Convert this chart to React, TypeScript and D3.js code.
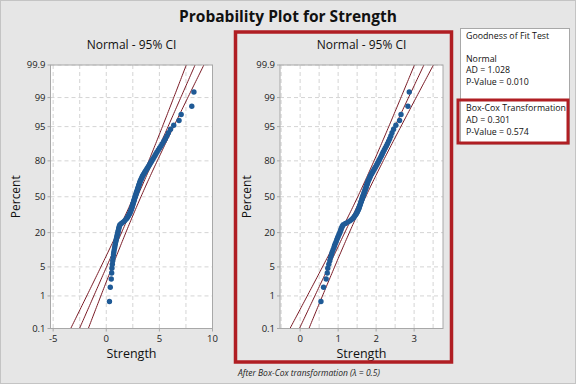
import React from "react";
import * as d3 from "d3";

// ---------- data ----------
const strength: number[] = [
  0.30, 0.38, 0.47, 0.51, 0.53, 0.57, 0.61, 0.64, 0.68, 0.71,
  0.75, 0.79, 0.82, 0.86, 0.90, 0.93, 0.97, 1.00, 1.04, 1.08,
  1.11, 1.14, 1.17, 1.20, 1.24, 1.29, 1.42, 1.58, 1.72, 1.83,
  1.92, 2.00, 2.07, 2.13, 2.19, 2.24, 2.28, 2.32, 2.36, 2.40,
  2.43, 2.46, 2.49, 2.52, 2.55, 2.58, 2.61, 2.64, 2.67, 2.70,
  2.73, 2.76, 2.80, 2.83, 2.86, 2.90, 2.93, 2.96, 3.00, 3.03,
  3.06, 3.10, 3.13, 3.17, 3.20, 3.26, 3.31, 3.36, 3.41, 3.46,
  3.53, 3.60, 3.67, 3.75, 3.83, 3.91, 3.99, 4.07, 4.15, 4.24,
  4.32, 4.41, 4.50, 4.59, 4.68, 4.78, 4.90, 5.02, 5.15, 5.28,
  5.42, 5.56, 5.70, 5.85, 6.05, 6.35, 6.85, 7.05, 8.05, 8.25,
];
const boxCoxLambda = 0.5;
// Box-Cox (Minitab: Y^lambda) transformed values
const transformed: number[] = strength.map((v) => Math.pow(v, boxCoxLambda));

const percentTicks: number[] = [0.1, 1, 5, 20, 50, 80, 95, 99, 99.9];
const leftXTicks: number[] = [-5, 0, 5, 10];
const rightXTicks: number[] = [0, 1, 2, 3];

// fitted normal parameters
const normalFit = { mean: 2.92, sd: 1.76 };
const boxCoxFit = { mean: 1.62, sd: 0.53 };

const gofLines: string[] = ["Goodness of Fit Test", "", "Normal", "AD = 1.028", "P-Value = 0.010"];
const gofBoxCox: string[] = ["Box-Cox Transformation", "AD = 0.301", "P-Value = 0.574"];

// ---------- helpers ----------
function probit(p: number): number {
  // Acklam's inverse normal approximation
  const a = [-3.969683028665376e1, 2.209460984245205e2, -2.759285104469687e2, 1.38357751867269e2, -3.066479806614716e1, 2.506628277459239];
  const b = [-5.447609879822406e1, 1.615858368580409e2, -1.556989798598866e2, 6.680131188771972e1, -1.328068155288572e1];
  const c = [-7.784894002430293e-3, -3.223964580411365e-1, -2.400758277161838, -2.549732539343734, 4.374664141464968, 2.938163982698783];
  const d = [7.784695709041462e-3, 3.224671290700398e-1, 2.445134137142996, 3.754408661907416];
  const pl = 0.02425;
  let q: number, r: number;
  if (p < pl) {
    q = Math.sqrt(-2 * Math.log(p));
    return (((((c[0] * q + c[1]) * q + c[2]) * q + c[3]) * q + c[4]) * q + c[5]) / ((((d[0] * q + d[1]) * q + d[2]) * q + d[3]) * q + 1);
  } else if (p <= 1 - pl) {
    q = p - 0.5;
    r = q * q;
    return ((((((a[0] * r + a[1]) * r + a[2]) * r + a[3]) * r + a[4]) * r + a[5]) * q) / (((((b[0] * r + b[1]) * r + b[2]) * r + b[3]) * r + b[4]) * r + 1);
  } else {
    q = Math.sqrt(-2 * Math.log(1 - p));
    return -(((((c[0] * q + c[1]) * q + c[2]) * q + c[3]) * q + c[4]) * q + c[5]) / ((((d[0] * q + d[1]) * q + d[2]) * q + d[3]) * q + 1);
  }
}

const W = 576, H = 384;
const plotTop = 65, plotBottom = 328.5;
const zMax = probit(0.999);
const yScale = d3.scaleLinear().domain([-zMax, zMax]).range([plotBottom, plotTop]);

const FONT = "'Open Sans', 'Noto Sans', sans-serif";
const LINE = "#7a1b26";
const DOT = "#1f5a96";
const RED = "#b01e23";

type PanelProps = {
  id: string;
  x0: number; x1: number;
  domain: [number, number];
  ticks: number[];
  gridStep: number;
  values: number[];
  fit: { mean: number; sd: number };
  percentX: number;
};

function Panel({ id, x0, x1, domain, ticks, gridStep, values, fit, percentX }: PanelProps) {
  const x = d3.scaleLinear().domain(domain).range([x0, x1]);
  const sorted = [...values].sort((a, b) => a - b);
  const n = sorted.length;
  const pts = sorted.map((v, i) => ({ v, z: probit((i + 1 - 0.3) / (n + 0.4)) }));
  const grid = d3.range(Math.ceil(domain[0] / gridStep) * gridStep, domain[1] + 1e-9, gridStep);
  const zs = d3.range(-3.6, 3.61, 0.05);
  const line = d3.line<[number, number]>().x((d) => x(d[0])).y((d) => yScale(d[1]));
  const curve = (k: number) =>
    line(zs.map((z) => [fit.mean + z * fit.sd + k * 1.96 * fit.sd * Math.sqrt((1 + (z * z) / 2) / n), z] as [number, number]));
  const cx = (x0 + x1) / 2;
  return (
    <g>
      <defs>
        <clipPath id={id}>
          <rect x={x0} y={plotTop} width={x1 - x0} height={plotBottom - plotTop} />
        </clipPath>
      </defs>
      <rect x={x0} y={plotTop} width={x1 - x0} height={plotBottom - plotTop} fill="#ffffff" />
      {grid.map((g) => (
        <line key={"gx" + g} x1={x(g)} x2={x(g)} y1={plotTop} y2={plotBottom} stroke="#d4d4d4" strokeDasharray="4,3" strokeWidth={1} />
      ))}
      {percentTicks.map((p) => (
        <line key={"gy" + p} x1={x0} x2={x1} y1={yScale(probit(p / 100))} y2={yScale(probit(p / 100))} stroke="#d4d4d4" strokeDasharray="4,3" strokeWidth={1} />
      ))}
      <g clipPath={`url(#${id})`}>
        <path d={curve(-1) || ""} fill="none" stroke={LINE} strokeWidth={1} />
        <path d={curve(0) || ""} fill="none" stroke={LINE} strokeWidth={1} />
        <path d={curve(1) || ""} fill="none" stroke={LINE} strokeWidth={1} />
        {pts.map((p, i) => (
          <circle key={i} cx={x(p.v)} cy={yScale(p.z)} r={2.7} fill={DOT} />
        ))}
      </g>
      <rect x={x0} y={plotTop} width={x1 - x0} height={plotBottom - plotTop} fill="none" stroke="#a8a8a8" strokeWidth={1} />
      {percentTicks.map((p) => (
        <g key={"ty" + p}>
          <line x1={x0 - 3} x2={x0} y1={yScale(probit(p / 100))} y2={yScale(probit(p / 100))} stroke="#a8a8a8" />
          <text x={x0 - 5} y={yScale(probit(p / 100))} dy="0.35em" textAnchor="end" fontSize={9.5} fill="#222" fontFamily={FONT}>
            {String(p)}
          </text>
        </g>
      ))}
      {ticks.map((t) => (
        <g key={"tx" + t}>
          <line x1={x(t)} x2={x(t)} y1={plotBottom} y2={plotBottom + 3} stroke="#a8a8a8" />
          <text x={x(t)} y={plotBottom + 13} textAnchor="middle" fontSize={9.5} fill="#222" fontFamily={FONT}>
            {String(t)}
          </text>
        </g>
      ))}
      <text x={cx} y={49} textAnchor="middle" fontSize={12} fill="#111" fontFamily={FONT}>
        Normal - 95% CI
      </text>
      <text x={cx} y={358} textAnchor="middle" fontSize={12.5} fill="#111" fontFamily={FONT}>
        Strength
      </text>
      <text transform={`translate(${percentX},${(plotTop + plotBottom) / 2}) rotate(-90)`} textAnchor="middle" dy="0.35em" fontSize={12} fill="#111" fontFamily={FONT}>
        Percent
      </text>
    </g>
  );
}

export default function App() {
  return (
    <svg width={W} height={H} style={{ position: "absolute", left: 0, top: 0, display: "block" }} fontFamily={FONT}>
      <rect x={0.5} y={0.5} width={W - 1} height={H - 1} fill="#e6e6e6" stroke="#c4c4c4" />
      <text x={288} y={22} textAnchor="middle" fontSize={15.5} fontWeight="bold" fill="#111" fontFamily={FONT}>
        Probability Plot for Strength
      </text>
      <Panel id="clipL" x0={50.5} x1={212.5} domain={[-5.25, 10]} ticks={leftXTicks} gridStep={2.5} values={strength} fit={normalFit} percentX={16} />
      <Panel id="clipR" x0={280} x1={443} domain={[-0.53, 3.76]} ticks={rightXTicks} gridStep={0.5} values={transformed} fit={boxCoxFit} percentX={247} />
      <rect x={235.5} y={32} width={216} height={330} fill="none" stroke={RED} strokeWidth={3.5} />
      <text x={238} y={376} fontSize={8.5} fontStyle="italic" fill="#222" fontFamily={FONT}>
        After Box-Cox transformation (λ = 0.5)
      </text>
      <rect x={460.5} y={28.5} width={109} height={115.5} fill="#ffffff" stroke="#a8a8a8" />
      {gofLines.map((t, i) => (
        <text key={"g" + i} x={466} y={39 + i * 11.4} fontSize={8.8} fill="#111" fontFamily={FONT}>
          {t}
        </text>
      ))}
      <rect x={458} y={100} width={110} height={43} fill="none" stroke={RED} strokeWidth={3} />
      {gofBoxCox.map((t, i) => (
        <text key={"b" + i} x={466} y={111 + i * 12.2} fontSize={8.8} fill="#111" fontFamily={FONT}>
          {t}
        </text>
      ))}
    </svg>
  );
}
